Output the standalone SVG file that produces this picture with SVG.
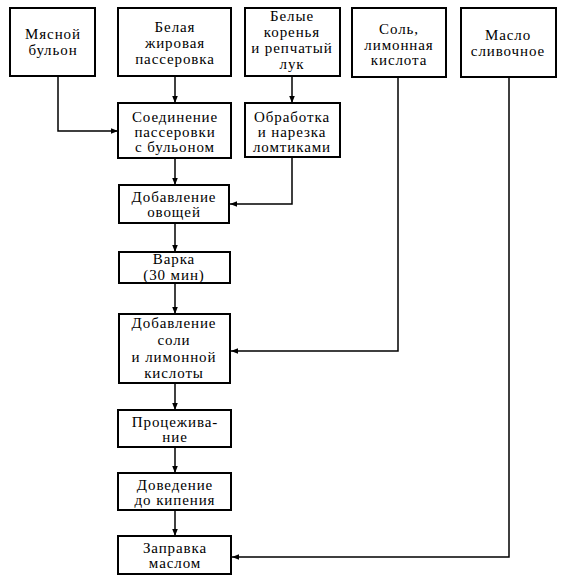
<svg xmlns="http://www.w3.org/2000/svg" width="567" height="587" viewBox="0 0 567 587">
<style>
.box{fill:#fff;stroke:#000;stroke-width:2}
.t{font-family:"Liberation Serif","DejaVu Serif",serif;font-size:15px;text-anchor:middle;fill:#000;letter-spacing:0.9px}
.c{fill:none;stroke:#000;stroke-width:1.5}
</style>
<defs>
<marker id="ah" viewBox="0 0 10 10" refX="10" refY="5" markerWidth="7" markerHeight="7" orient="auto" markerUnits="userSpaceOnUse">
<path d="M0,1 L10,5 L0,9 Z" fill="#000"/>
</marker>
</defs>
<rect width="567" height="587" fill="#fff"/>
<g id="connectors">
<path class="c" d="M58,76 V131 H118" marker-end="url(#ah)"/>
<path class="c" d="M175,76 V103" marker-end="url(#ah)"/>
<path class="c" d="M292,76 V103" marker-end="url(#ah)"/>
<path class="c" d="M175,158 V185" marker-end="url(#ah)"/>
<path class="c" d="M292,157 V204 H230" marker-end="url(#ah)"/>
<path class="c" d="M175,223 V252" marker-end="url(#ah)"/>
<path class="c" d="M175,283 V314" marker-end="url(#ah)"/>
<path class="c" d="M398,77 V351 H231" marker-end="url(#ah)"/>
<path class="c" d="M175,383 V410" marker-end="url(#ah)"/>
<path class="c" d="M175,447 V473" marker-end="url(#ah)"/>
<path class="c" d="M175,510 V536" marker-end="url(#ah)"/>
<path class="c" d="M509,77 V557 H232" marker-end="url(#ah)"/>
</g>
<g id="n1"><rect class="box" x="10" y="8" width="85" height="68"/>
<text class="t" x="53"><tspan x="53" y="39">Мясной</tspan><tspan x="53" y="55">бульон</tspan></text></g>
<g id="n2"><rect class="box" x="118" y="8" width="113" height="68"/>
<text class="t"><tspan x="175" y="32">Белая</tspan><tspan x="175" y="48">жировая</tspan><tspan x="175" y="64">пассеровка</tspan></text></g>
<g id="n3"><rect class="box" x="245" y="8" width="95" height="68"/>
<text class="t"><tspan x="292" y="21">Белые</tspan><tspan x="292" y="37">коренья</tspan><tspan x="292" y="53">и репчатый</tspan><tspan x="292" y="69">лук</tspan></text></g>
<g id="n4"><rect class="box" x="352" y="8" width="94" height="69"/>
<text class="t"><tspan x="399" y="34">Соль,</tspan><tspan x="399" y="50">лимонная</tspan><tspan x="399" y="65">кислота</tspan></text></g>
<g id="n5"><rect class="box" x="461" y="8" width="95" height="69"/>
<text class="t"><tspan x="508" y="40">Масло</tspan><tspan x="508" y="56">сливочное</tspan></text></g>
<g id="n6"><rect class="box" x="118" y="103" width="113" height="55"/>
<text class="t"><tspan x="175" y="122">Соединение</tspan><tspan x="175" y="137">пассеровки</tspan><tspan x="175" y="152">с бульоном</tspan></text></g>
<g id="n7"><rect class="box" x="245" y="103" width="95" height="54"/>
<text class="t"><tspan x="292" y="122">Обработка</tspan><tspan x="292" y="137">и нарезка</tspan><tspan x="292" y="152">ломтиками</tspan></text></g>
<g id="n8"><rect class="box" x="119" y="185" width="110" height="38"/>
<text class="t"><tspan x="174" y="202">Добавление</tspan><tspan x="174" y="217">овощей</tspan></text></g>
<g id="n9"><rect class="box" x="119" y="252" width="111" height="31"/>
<text class="t"><tspan x="174" y="264">Варка</tspan><tspan x="174" y="280">(30 мин)</tspan></text></g>
<g id="n10"><rect class="box" x="119" y="314" width="111" height="69"/>
<text class="t"><tspan x="174" y="328">Добавление</tspan><tspan x="174" y="345">соли</tspan><tspan x="174" y="362">и лимонной</tspan><tspan x="174" y="378">кислоты</tspan></text></g>
<g id="n11"><rect class="box" x="118" y="410" width="113" height="37"/>
<text class="t"><tspan x="175" y="427">Процежива-</tspan><tspan x="175" y="442">ние</tspan></text></g>
<g id="n12"><rect class="box" x="118" y="473" width="113" height="37"/>
<text class="t"><tspan x="175" y="490">Доведение</tspan><tspan x="175" y="505">до кипения</tspan></text></g>
<g id="n13"><rect class="box" x="118" y="536" width="113" height="38"/>
<text class="t"><tspan x="175" y="553">Заправка</tspan><tspan x="175" y="568">маслом</tspan></text></g>
</svg>
